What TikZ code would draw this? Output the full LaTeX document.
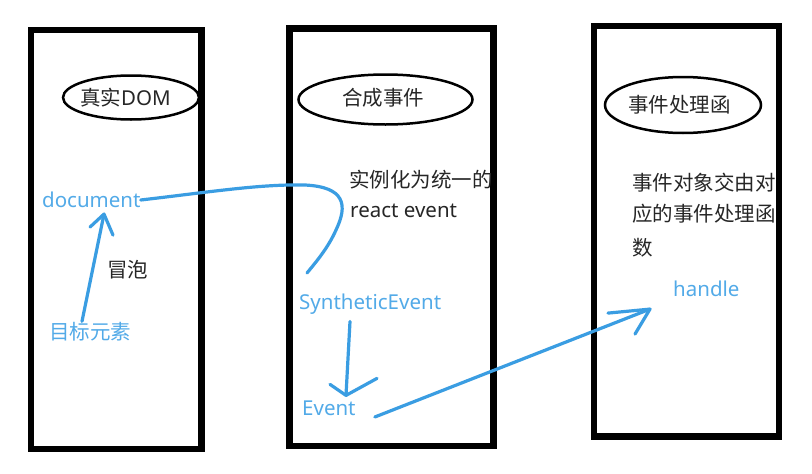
\documentclass[tikz,border=0pt]{standalone}
\usepackage{fontspec}
\setmainfont{Noto Sans}
\newfontfamily\cjk{Noto Sans CJK SC}
\definecolor{txtblue}{HTML}{52AAE8}
\definecolor{arrblue}{HTML}{3A9DE2}
\tikzset{
  panel/.style={draw=black,line width=6.5pt},
  oval/.style={draw=black,line width=2.5pt},
  lbl/.style={inner sep=0pt,font=\fontsize{20.5}{24}\selectfont,text=black!85},
  bluelbl/.style={lbl,text=txtblue},
  conn/.style={draw=arrblue,line width=3.2pt,line cap=round,line join=round},
}
\begin{document}
\begin{tikzpicture}[x=1pt,y=-1pt]
\useasboundingbox[fill=white] (0,0) rectangle (812,474);
% panels
\draw[panel] (31,30) rectangle (201.5,449);
\draw[panel] (289.5,28.5) rectangle (493.5,446);
\draw[panel] (594,26) rectangle (779,436.5);
% ovals
\draw[oval] (131,97.5) ellipse [x radius=68,y radius=22];
\draw[oval] (385.5,99.5) ellipse [x radius=87,y radius=25];
\draw[oval] (683,105) ellipse [x radius=78,y radius=28];
\node[lbl,anchor=west] (t1) at (80,98) {{\cjk 真实}DOM};
\node[lbl,anchor=west] (t2) at (342,98) {\cjk 合成事件};
\node[lbl,anchor=west] (t3) at (628,105) {\cjk 事件处理函};
% panel 1
\node[bluelbl,anchor=west] (doc) at (42,200) {document};
\node[lbl,anchor=west] (bub) at (107,270) {\cjk 冒泡};
\node[bluelbl,anchor=west] (tgt) at (49,332) {\cjk 目标元素};
% panel 2
\node[lbl,anchor=west] (d1) at (349,180) {\cjk 实例化为统一的};
\node[lbl,anchor=west] (d2) at (350,211) {react event};
\node[bluelbl,anchor=west] (syn) at (299,304) {SyntheticEvent};
\node[bluelbl,anchor=west] (evt) at (302,408) {Event};
% panel 3
\node[lbl,anchor=west] (h1) at (632,183) {\cjk 事件对象交由对};
\node[lbl,anchor=west] (h2) at (632,214) {\cjk 应的事件处理函};
\node[lbl,anchor=west] (h3) at (632,248) {\cjk 数};
\node[bluelbl,anchor=west] (hdl) at (673,289) {handle};
% connectors: target -> document (bubbling)
\coordinate (bubtip) at ([shift={(62,6)}]doc.south west);
\draw[conn] ([shift={(33,-1)}]tgt.north west) -- (bubtip);
\draw[conn] ([shift={(-14,13)}]bubtip) -- (bubtip) -- ([shift={(9,21)}]bubtip);
% document -> SyntheticEvent
\coordinate (curveend) at (307,273);
\draw[conn] (doc.east) .. controls (210,192) and (260,184) .. (305,185)
  .. controls (345,187) and (348,205) .. (336,230)
  .. controls (328,248) and (316,262) .. (curveend);
% SyntheticEvent -> Event
\coordinate (evtip) at ([shift={(44,-5)}]evt.north west);
\draw[conn] ([shift={(51,7)}]syn.south west) -- (evtip);
\draw[conn] ([shift={(-16,-11)}]evtip) -- (evtip) -- ([shift={(31,-17)}]evtip);
% Event -> handle
\coordinate (hdltip) at ([shift={(-23,12)}]hdl.south west);
\draw[conn] ([shift={(19,9)}]evt.east) -- (hdltip);
\draw[conn] ([shift={(-42,4)}]hdltip) -- (hdltip) -- ([shift={(-15,25)}]hdltip);
\end{tikzpicture}
\end{document}
